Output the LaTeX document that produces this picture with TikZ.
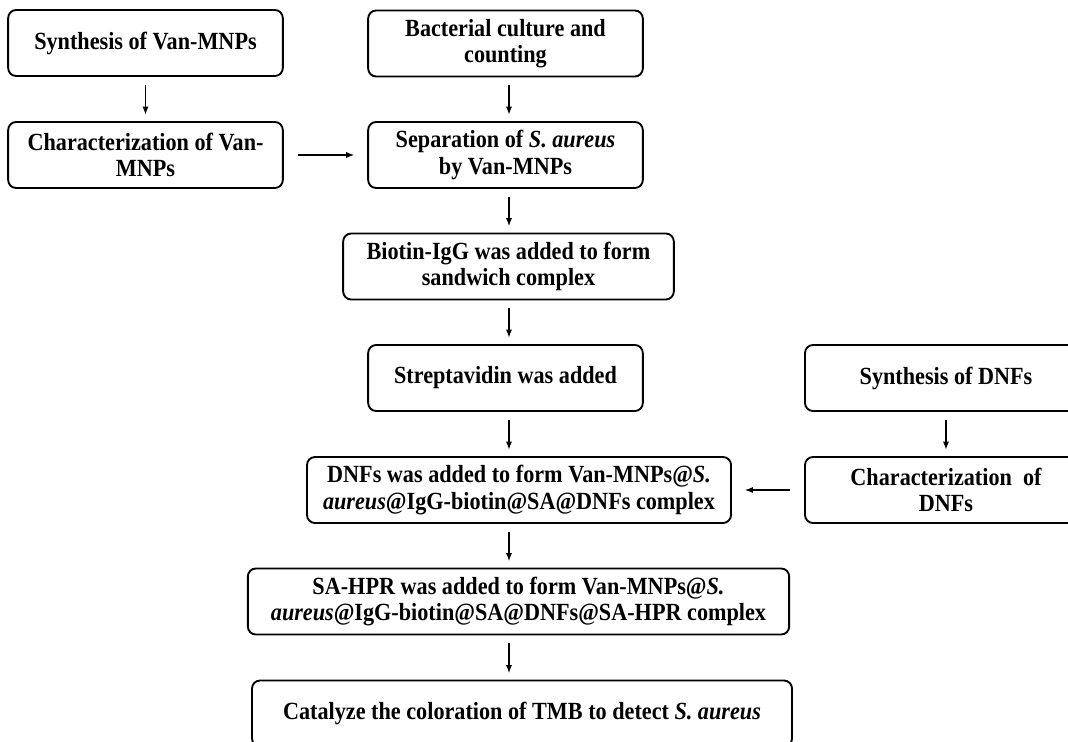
\documentclass[tikz,border=0pt]{standalone}
\usepackage{fontspec}
\setmainfont{Liberation Serif}[FakeStretch=0.9]
\usetikzlibrary{arrows.meta}
\tikzset{
  bx/.style={draw=black, line width=1.4pt, rounded corners=6pt, align=center,
             inner sep=2pt, minimum height=49.5pt,
             font=\bfseries\fontsize{18.5}{20}\selectfont},              % step box
  ar/.style={draw=black, line width=1.2pt, shorten <=6pt, shorten >=4.5pt,
             -{Latex[length=2.2mm,width=1.6mm]}},                        % down arrow
  ha/.style={ar, shorten <=10.5pt, shorten >=9.5pt},                     % side arrow
}
\begin{document}
\begin{tikzpicture}[x=0.75pt,y=-0.75pt]
  \useasboundingbox (0,0) rectangle (1068,742);
  \node[bx, minimum width=206pt] (b1)  at (145.5,43)    {Synthesis of Van-MNPs};
  \node[bx, minimum width=206pt] (b2)  at (145.5,155)   {Characterization of Van-\\MNPs};
  \node[bx, minimum width=206pt] (b3)  at (505.5,43.5)  {Bacterial culture and\\counting};
  \node[bx, minimum width=206pt] (b4)  at (505.5,155)   {Separation of \textit{S. aureus}\\by Van-MNPs};
  \node[bx, minimum width=248pt] (b5)  at (508.5,266.5) {Biotin-IgG was added to form\\sandwich complex};
  \node[bx, minimum width=206pt] (b6)  at (505.5,378)   {Streptavidin was added};
  \node[bx, minimum width=318pt] (b7)  at (519,490)     {DNFs was added to form Van-MNPs@\textit{S.}\\\textit{aureus}@IgG-biotin@SA@DNFs complex};
  \node[bx, minimum width=406pt] (b8)  at (518.5,601.5) {SA-HPR was added to form Van-MNPs@\textit{S.}\\\textit{aureus}@IgG-biotin@SA@DNFs@SA-HPR complex};
  \node[bx, minimum width=405pt] (b9)  at (522,713.5)   {Catalyze the coloration of TMB to detect \textit{S. aureus}};
  \node[bx, minimum width=211.5pt] (b10) at (946,378)   {Synthesis of DNFs};
  \node[bx, minimum width=211.5pt] (b11) at (946,490)   {Characterization~~of\\DNFs};
  \coordinate (sp) at (509,0);
  \draw[ar] (b1) -- (b2);
  \draw[ar] (b10) -- (b11);
  \foreach \u/\v in {b3/b4,b4/b5,b5/b6,b6/b7,b7/b8,b8/b9}
    \draw[ar] (\u.south -| sp) -- (\v.north -| sp);
  \draw[ha] (b2) -- (b4);
  \draw[ha] (b11) -- (b7);
\end{tikzpicture}
\end{document}
